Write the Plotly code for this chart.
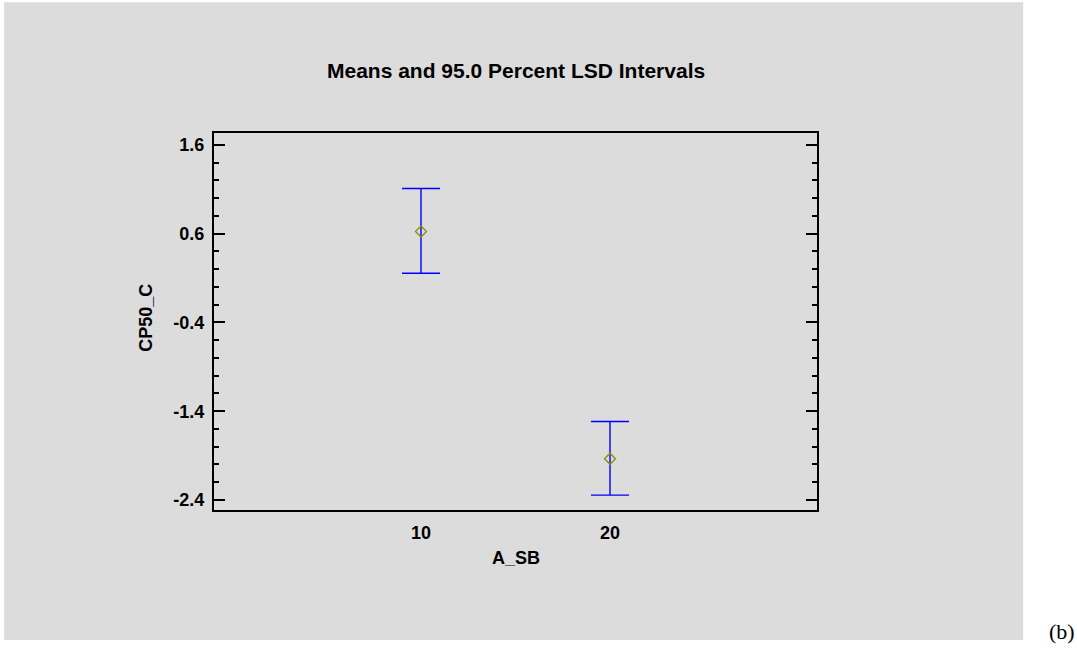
import plotly.graph_objects as go

# Data
levels = [10, 20]
means = [0.625, -1.935]
half_lsd_upper = [0.485, 0.42]
half_lsd_lower = [0.47, 0.41]
y_ticks = [1.6, 0.6, -0.4, -1.4, -2.4]
y_tick_labels = ["1.6", "0.6", "-0.4", "-1.4", "-2.4"]
x_ticks = [10, 20]
x_tick_labels = ["10", "20"]

FONT = "Liberation Sans, Arial, sans-serif"

fig = go.Figure()
fig.add_trace(go.Scatter(
    x=levels, y=means, mode="markers",
    marker=dict(symbol="diamond-open", size=8.5, color="#8c8c00", line=dict(width=1.3)),
    error_y=dict(type="data", symmetric=False, array=half_lsd_upper, arrayminus=half_lsd_lower,
                 color="#0000ff", thickness=1.4, width=19),
    showlegend=False, hoverinfo="skip",
))

fig.update_layout(
    width=1077, height=650,
    margin=dict(l=214, r=260, t=133, b=140),
    paper_bgcolor="white",
    plot_bgcolor="white",
    font=dict(family=FONT, size=18, color="black"),
    shapes=[dict(type="rect", xref="paper", yref="paper",
                 x0=-0.348, x1=1.342, y0=-0.345, y1=1.347,
                 fillcolor="#dcdcdc", line=dict(width=0), layer="below")],
    annotations=[
        dict(text="<b>Means and 95.0 Percent LSD Intervals</b>", xref="paper", yref="paper",
             x=0.5, y=1.167, xanchor="center", yanchor="middle", showarrow=False,
             font=dict(family=FONT, size=21)),
        dict(text="<b>CP50_C</b>", xref="paper", yref="paper",
             x=(146 - 214) / 603, y=0.51, xanchor="center", yanchor="middle", textangle=-90,
             showarrow=False, font=dict(family=FONT, size=18)),
        dict(text="<b>A_SB</b>", xref="paper", yref="paper",
             x=0.5, y=-0.127, xanchor="center", yanchor="middle", showarrow=False,
             font=dict(family=FONT, size=18)),
        dict(text="(b)", xref="paper", yref="paper",
             x=1.406, y=-0.321, xanchor="center", yanchor="middle", showarrow=False,
             font=dict(family="Liberation Serif, Times New Roman, serif", size=22)),
    ],
)

fig.update_xaxes(
    range=[-0.95, 30.95], tickvals=x_ticks, ticktext=["<b>%s</b>" % t for t in x_tick_labels],
    ticks="", showgrid=False, zeroline=False,
    showline=True, linecolor="black", linewidth=2, mirror=True,
    ticklabelstandoff=5, tickfont=dict(family=FONT, size=18),
)
fig.update_yaxes(
    range=[-2.513, 1.735], tickvals=y_ticks, ticktext=["<b>%s</b>" % t for t in y_tick_labels],
    ticks="inside", ticklen=11, tickwidth=2, tickcolor="black",
    minor=dict(dtick=0.2, tick0=-2.4, ticks="inside", ticklen=5, tickwidth=2, tickcolor="black", showgrid=False),
    showgrid=False, zeroline=False,
    showline=True, linecolor="black", linewidth=2, mirror="ticks",
    ticklabelstandoff=4, tickfont=dict(family=FONT, size=18),
)

fig.write_html("out.html")
